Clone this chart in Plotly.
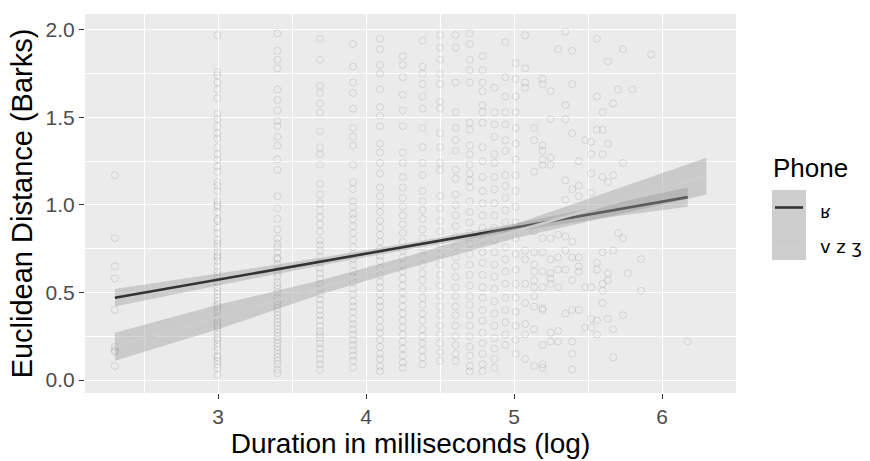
import numpy as np
import plotly.graph_objects as go

# ---------------- data ----------------
# Euclidean distance (Barks) per duration stripe (ms)
dist_10 = [1.17, 0.81, 0.65, 0.58, 0.40, 0.19, 0.17, 0.16, 0.08]
dist_20 = [1.97, 1.76, 1.74, 1.70, 1.66, 1.61, 1.52, 1.49, 1.45, 1.41, 1.38, 1.33, 1.29, 1.26, 1.22,
           1.19, 1.13, 1.11, 1.08, 1.02, 1.00, 0.99, 0.96, 0.92, 0.91, 0.87, 0.84, 0.80, 0.78, 0.76,
           0.73, 0.71, 0.70, 0.68, 0.65, 0.62, 0.60, 0.58, 0.56, 0.53, 0.51, 0.49, 0.47, 0.45, 0.43,
           0.42, 0.40, 0.38, 0.36, 0.35, 0.33, 0.31, 0.30, 0.28, 0.26, 0.24, 0.23, 0.21, 0.19, 0.17,
           0.14, 0.13, 0.11, 0.09, 0.07, 0.03]
dist_30 = [1.98, 1.88, 1.83, 1.78, 1.66, 1.60, 1.54, 1.48, 1.45, 1.39, 1.34, 1.26, 1.20, 1.05, 0.98,
           0.92, 0.86, 0.81, 0.78, 0.76, 0.73, 0.70, 0.69, 0.66, 0.63, 0.61, 0.59, 0.56, 0.54, 0.52,
           0.50, 0.47, 0.45, 0.43, 0.41, 0.39, 0.37, 0.35, 0.33, 0.31, 0.29, 0.27, 0.25, 0.23, 0.21,
           0.19, 0.17, 0.15, 0.13, 0.11, 0.09, 0.06, 0.04]
dist_40 = [1.95, 1.83, 1.68, 1.64, 1.58, 1.53, 1.42, 1.33, 1.29, 1.23, 1.12, 1.06, 1.01, 0.97, 0.93,
           0.89, 0.85, 0.80, 0.77, 0.74, 0.70, 0.67, 0.64, 0.61, 0.58, 0.55, 0.52, 0.49, 0.46, 0.43,
           0.40, 0.37, 0.34, 0.31, 0.28, 0.26, 0.24, 0.21, 0.18, 0.15, 0.12, 0.09, 0.06]
dist_50 = [1.92, 1.79, 1.70, 1.64, 1.55, 1.44, 1.39, 1.34, 1.23, 1.13, 1.09, 1.02, 0.99, 0.95, 0.92,
           0.88, 0.84, 0.80, 0.76, 0.72, 0.69, 0.66, 0.62, 0.59, 0.56, 0.52, 0.49, 0.45, 0.42, 0.39,
           0.35, 0.32, 0.29, 0.26, 0.23, 0.20, 0.17, 0.14, 0.11, 0.07]
dist_60 = [1.95, 1.89, 1.80, 1.75, 1.66, 1.56, 1.51, 1.45, 1.35, 1.30, 1.24, 1.18, 1.10, 1.05, 1.00,
           0.96, 0.91, 0.87, 0.83, 0.79, 0.75, 0.71, 0.68, 0.64, 0.60, 0.56, 0.53, 0.49, 0.45, 0.42,
           0.38, 0.34, 0.30, 0.27, 0.23, 0.19, 0.15, 0.12, 0.08, 0.05]
dist_70 = [1.85, 1.80, 1.73, 1.63, 1.54, 1.45, 1.30, 1.24, 1.16, 1.10, 1.04, 0.99, 0.94, 0.89, 0.84,
           0.79, 0.74, 0.70, 0.66, 0.62, 0.58, 0.54, 0.50, 0.46, 0.42, 0.38, 0.34, 0.30, 0.26, 0.22,
           0.18, 0.14, 0.10, 0.07]
dist_80 = [1.94, 1.79, 1.75, 1.69, 1.62, 1.55, 1.44, 1.33, 1.24, 1.17, 1.08, 1.02, 0.97, 0.92, 0.86,
           0.81, 0.76, 0.71, 0.66, 0.61, 0.57, 0.52, 0.47, 0.43, 0.38, 0.34, 0.29, 0.25, 0.21, 0.17,
           0.13, 0.09]
dist_90 = [1.97, 1.90, 1.83, 1.75, 1.69, 1.59, 1.55, 1.41, 1.33, 1.24, 1.20, 1.05, 0.98, 0.91, 0.85,
           0.78, 0.72, 0.66, 0.60, 0.54, 0.48, 0.42, 0.37, 0.31, 0.26, 0.21, 0.16, 0.11]
dist_100 = [1.97, 1.90, 1.70, 1.53, 1.44, 1.37, 1.31, 1.20, 1.15, 1.06, 1.00, 0.94, 0.88, 0.82, 0.76,
            0.70, 0.65, 0.59, 0.53, 0.48, 0.42, 0.37, 0.31, 0.25, 0.20, 0.15, 0.11]
dist_110 = [1.98, 1.92, 1.83, 1.77, 1.70, 1.47, 1.43, 1.34, 1.29, 1.23, 1.18, 1.14, 1.10, 1.02, 0.96,
            0.90, 0.84, 0.78, 0.72, 0.66, 0.60, 0.54, 0.48, 0.43, 0.37, 0.31, 0.25, 0.19, 0.14, 0.08,
            0.05]
dist_120 = [1.85, 1.77, 1.70, 1.65, 1.57, 1.53, 1.47, 1.33, 1.25, 1.16, 1.08, 1.01, 0.94, 0.87, 0.80,
            0.73, 0.67, 0.60, 0.53, 0.47, 0.40, 0.34, 0.27, 0.21, 0.15, 0.09, 0.05]
dist_130 = [1.67, 1.53, 1.46, 1.39, 1.29, 1.24, 1.16, 1.09, 1.01, 0.94, 0.87, 0.80, 0.73, 0.66, 0.59,
            0.52, 0.45, 0.38, 0.31, 0.24, 0.18, 0.12, 0.07]
dist_140 = [1.93, 1.73, 1.62, 1.53, 1.46, 1.37, 1.31, 1.17, 1.11, 1.04, 0.97, 0.90, 0.83, 0.76, 0.69,
            0.62, 0.55, 0.47, 0.40, 0.33, 0.26, 0.20]
dist_150 = [1.81, 1.72, 1.62, 1.53, 1.44, 1.35, 1.26, 1.17, 1.08, 0.99, 0.90, 0.81, 0.72, 0.63, 0.55,
            0.47, 0.39, 0.31, 0.23, 0.15]
dist_160 = [1.97, 1.78, 1.70, 1.67, 0.74, 0.69, 0.55, 0.44, 0.32, 0.26, 0.12]
dist_170 = [1.44, 1.37, 1.19, 0.85, 0.73, 0.66, 0.62, 0.57, 0.53, 0.48, 0.42, 0.29, 0.08]
dist_180 = [1.72, 1.69, 1.34, 1.31, 1.26, 1.23, 0.81, 0.73, 0.62, 0.53, 0.41, 0.40, 0.20, 0.09, 0.07]
dist_190 = [1.65, 1.49, 1.27, 1.23, 0.81, 0.69, 0.61, 0.58, 0.55, 0.27, 0.22]
dist_200 = [1.89, 0.83, 0.70, 0.63, 0.53, 0.28, 0.22]
dist_210 = [1.99, 1.57, 1.49, 1.14, 1.03, 0.82, 0.74, 0.63, 0.38]
dist_220 = [1.88, 1.69, 1.41, 1.09, 0.79, 0.70, 0.57, 0.40, 0.22, 0.15, 0.06]
dist_230 = [1.25, 1.11, 1.05, 0.70, 0.65, 0.62, 0.40]
dist_240 = [1.37, 0.53, 0.30]
dist_250 = [1.36, 1.29, 1.18, 1.07, 0.53, 0.35, 0.30]
dist_260 = [1.95, 1.62, 1.43, 0.67, 0.63, 0.34, 0.26]
dist_270 = [1.53, 1.43, 1.29, 1.16, 0.73, 0.55, 0.51, 0.44]
dist_280 = [1.82, 1.35, 1.13, 0.61, 0.57, 0.35]
dist_290 = [1.58, 1.17, 0.74, 0.29, 0.13]
dist_300 = [1.66, 0.84]
dist_310 = [1.89, 1.24, 0.81, 0.37]
dist_320 = [0.61]
dist_330 = [1.66]
dist_350 = [0.69, 0.51]
dist_375 = [1.86]
dist_480 = [0.22]

stripes = {10: dist_10, 20: dist_20, 30: dist_30, 40: dist_40, 50: dist_50, 60: dist_60,
           70: dist_70, 80: dist_80, 90: dist_90, 100: dist_100, 110: dist_110, 120: dist_120,
           130: dist_130, 140: dist_140, 150: dist_150, 160: dist_160, 170: dist_170,
           180: dist_180, 190: dist_190, 200: dist_200, 210: dist_210, 220: dist_220,
           230: dist_230, 240: dist_240, 250: dist_250, 260: dist_260, 270: dist_270,
           280: dist_280, 290: dist_290, 300: dist_300, 310: dist_310, 320: dist_320,
           330: dist_330, 350: dist_350, 375: dist_375, 480: dist_480}

# fitted smooths (linear) with confidence bands
fit_log_dur = [2.303, 3.0, 3.7, 4.3, 5.0, 5.6, 6.174]
fit_r = [0.47, 0.574, 0.678, 0.767, 0.871, 0.960, 1.045]
fit_r_lo = [0.42, 0.540, 0.656, 0.749, 0.849, 0.925, 0.990]
fit_r_hi = [0.52, 0.608, 0.700, 0.785, 0.893, 0.995, 1.100]

fit2_log_dur = [2.303, 3.0, 3.7, 4.3, 5.0, 5.6, 6.30]
fit_vzj = [0.19, 0.36, 0.531, 0.677, 0.848, 0.994, 1.165]
fit_vzj_lo = [0.11, 0.29, 0.491, 0.642, 0.808, 0.924, 1.060]
fit_vzj_hi = [0.27, 0.43, 0.571, 0.712, 0.888, 1.064, 1.270]

phones = ["ʁ", "v z ʒ"]
x_ticks = [3, 4, 5, 6]
y_ticks = [0.0, 0.5, 1.0, 1.5, 2.0]

# ---------------- figure ----------------
W, H = 870, 461
L, R, T, B = 85, 134, 14, 68

pts_x, pts_y = [], []
for ms, vals in stripes.items():
    pts_x += [np.log(ms)] * len(vals)
    pts_y += vals

fig = go.Figure()
fig.add_trace(go.Scatter(
    x=pts_x, y=pts_y, mode="markers", showlegend=False, hoverinfo="skip",
    marker=dict(symbol="circle-open", size=7, color="rgba(0,0,0,0.10)", line=dict(width=1))))

ribbon_fill = "rgba(153,153,153,0.4)"

def ribbon(xs, lo, hi):
    return go.Scatter(x=list(xs) + list(xs)[::-1], y=list(lo) + list(hi)[::-1],
                      fill="toself", fillcolor=ribbon_fill, line=dict(width=0),
                      mode="lines", showlegend=False, hoverinfo="skip")

fig.add_trace(ribbon(fit_log_dur, fit_r_lo, fit_r_hi))
fig.add_trace(go.Scatter(x=fit_log_dur, y=fit_r, mode="lines", showlegend=False,
                         line=dict(color="#333333", width=2.6)))
fig.add_trace(ribbon(fit2_log_dur, fit_vzj_lo, fit_vzj_hi))
fig.add_trace(go.Scatter(x=fit2_log_dur, y=fit_vzj, mode="lines", showlegend=False,
                         line=dict(color="#cccccc", width=2.6)))

# manual ggplot-like legend
pw, ph = W - L - R, H - T - B
def px(xp):
    return (xp - L) / pw
def py(yp):
    return (H - B - yp) / ph

shapes = []
for i, lc in enumerate(["#333333", "#cccccc"]):
    y0 = 190 + 35 * i
    shapes.append(dict(type="rect", xref="paper", yref="paper", x0=px(772), x1=px(806),
                       y0=py(y0 + 35), y1=py(y0), fillcolor="#f2f2f2", line=dict(width=0)))
    shapes.append(dict(type="rect", xref="paper", yref="paper", x0=px(772), x1=px(806),
                       y0=py(y0 + 35), y1=py(y0), fillcolor=ribbon_fill, line=dict(width=0)))
    shapes.append(dict(type="line", xref="paper", yref="paper", x0=px(775), x1=px(803),
                       y0=py(y0 + 17.5), y1=py(y0 + 17.5), line=dict(color=lc, width=2.6)))

annotations = [dict(text="Phone", xref="paper", yref="paper", x=px(771), y=py(168),
                    xanchor="left", yanchor="middle", showarrow=False,
                    font=dict(size=26, color="black"))]
for i, lab in enumerate(phones):
    annotations.append(dict(text=lab, xref="paper", yref="paper", x=px(818), y=py(211 + 35 * i),
                            xanchor="left", yanchor="middle", showarrow=False,
                            font=dict(family="DejaVu Sans, sans-serif", size=18, color="black")))

fig.update_layout(
    width=W, height=H, margin=dict(l=L, r=R, t=T, b=B, autoexpand=False),
    paper_bgcolor="white", plot_bgcolor="#ebebeb",
    font=dict(family="Liberation Sans, Arial, sans-serif"),
    shapes=shapes, annotations=annotations, showlegend=False,
    xaxis=dict(range=[2.101, 6.5], tickvals=x_ticks, ticktext=[str(v) for v in x_ticks],
               automargin=False,
               showgrid=True, gridcolor="white", gridwidth=1.3, zeroline=False,
               minor=dict(tickvals=[2.5, 3.5, 4.5, 5.5, 6.5], showgrid=True, gridcolor="white",
                          gridwidth=0.6, ticks=""),
               ticks="outside", ticklen=5, tickcolor="#333333", tickwidth=1.1,
               tickfont=dict(size=21, color="#4d4d4d"),
               title=dict(text="Duration in milliseconds (log)", font=dict(size=28, color="black"),
                          standoff=2)),
    yaxis=dict(range=[-0.074, 2.091], tickvals=y_ticks, ticktext=[f"{v:.1f}" for v in y_ticks],
               automargin=False,
               showgrid=True, gridcolor="white", gridwidth=1.3, zeroline=False,
               minor=dict(tickvals=[0.25, 0.75, 1.25, 1.75], showgrid=True, gridcolor="white",
                          gridwidth=0.6, ticks=""),
               ticks="outside", ticklen=5, tickcolor="#333333", tickwidth=1.1,
               tickfont=dict(size=21, color="#4d4d4d"),
               title=dict(text="Euclidean Distance (Barks)", font=dict(size=29, color="black"),
                          standoff=4)),
)

fig.write_html("out.html", config={"displayModeBar": False},
               post_script="document.body.style.margin='0';")
